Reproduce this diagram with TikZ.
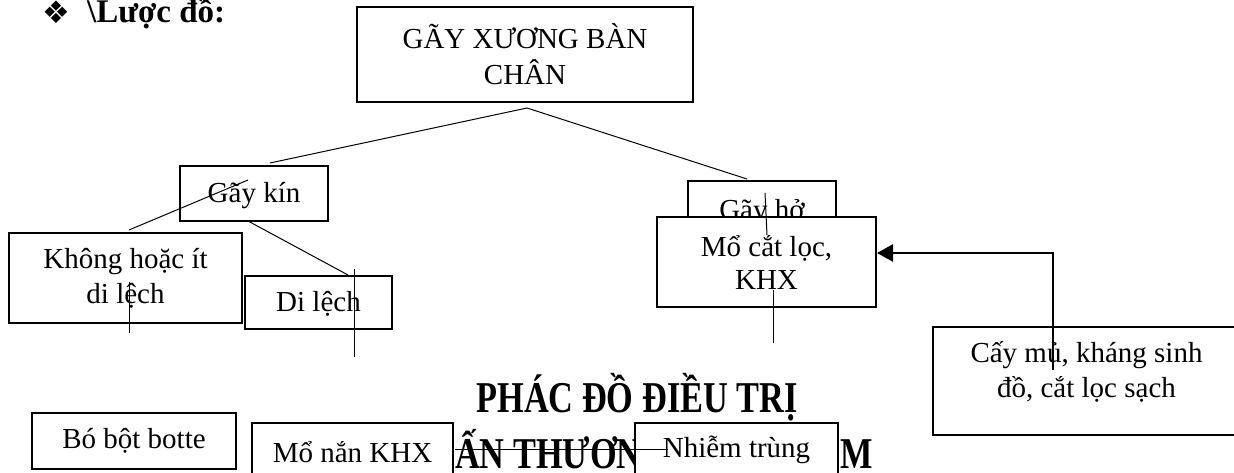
\documentclass[tikz,border=0pt]{standalone}
\usepackage{fontspec}
\setmainfont{Liberation Serif}
\newfontfamily\dingfont{DejaVu Sans}
\usetikzlibrary{arrows.meta}

\begin{document}
\begin{tikzpicture}[x=1pt,y=-1pt,
  box/.style={draw, line width=2pt, fill=white, inner sep=0pt, align=center,
    font=\fontsize{29}{35}\selectfont},
  link/.style={line width=1pt},
  feedback/.style={line width=2.5pt, -{Triangle[length=16pt,width=17pt]}},
  heading/.style={inner sep=0pt, font=\fontsize{33}{38}\selectfont\bfseries},
  titletext/.style={inner sep=0pt, font=\fontsize{44}{50}\selectfont\bfseries},
  plain/.style={inner sep=0pt, font=\fontsize{29}{35}\selectfont},
]
\useasboundingbox (0,0) rectangle (1234,473);
\clip (0,0) rectangle (1234,473);

% heading
\node[inner sep=0pt, font=\dingfont\fontsize{31}{34}\selectfont] (bullet) at (56,12) {❖};
\node[heading, anchor=base west] (head) at (87,23) {\textbackslash Lược đồ:};

% title (partly covered by the boxes drawn afterwards)
\node[titletext, anchor=base] (title1) at (637,412) {\scalebox{0.78}[1]{PHÁC ĐỒ ĐIỀU TRỊ}};
\node[titletext, anchor=base west] (title2) at (455,468) {\scalebox{0.78}[1]{ẤN THƯƠN}};
\node[titletext, anchor=base west] (title3) at (840,468) {\scalebox{0.78}[1]{M}};

% boxes
\node[box, minimum width=336pt, minimum height=95pt, font=\fontsize{29}{36}\selectfont]
  (root) at (525,54.5) {GÃY XƯƠNG BÀN\\CHÂN};
\node[box, minimum width=148pt, minimum height=55pt, text depth=3pt] (closed) at (254,193.5) {Gãy kín};
\node[box, minimum width=233pt, minimum height=90pt] (minor) at (125.5,278) {Không hoặc ít\\di lệch};
\node[box, minimum width=147pt, minimum height=53pt, text depth=3pt] (displaced) at (318.5,302.5) {Di lệch};
\node[box, minimum width=148pt, minimum height=60pt, anchor=north] (open) at (762,180) {};
\node[plain, anchor=base] (openlabel) at (762,220) {Gãy hở};
\node[box, minimum width=219pt, minimum height=90pt, text depth=0pt,
  font=\fontsize{29}{33}\selectfont] (debride) at (766.5,262) {Mổ cắt lọc,\\KHX};
\node[box, minimum width=307pt, minimum height=108pt, text depth=24pt]
  (culture) at (1086.5,381) {Cấy mủ, kháng sinh\\đồ, cắt lọc sạch};
\node[box, minimum width=204pt, minimum height=56pt] (cast) at (134,441) {Bó bột botte};
\node[box, minimum width=201pt, minimum height=58pt] (orif) at (352.5,452) {Mổ nắn KHX};
\node[box, minimum width=203pt, minimum height=54pt] (infect) at (736.5,450) {Nhiễm trùng};

% connector end points
\coordinate (rootfoot) at (527,108);
\coordinate (toclosed) at (270,163);
\coordinate (toopen) at (747,179);
\coordinate (ka) at (248,180);
\coordinate (kb) at (129,230);
\coordinate (kc) at (248,221);
\coordinate (kd) at (348,275);
\coordinate (ma) at (129,282);
\coordinate (mb) at (129,333);
\coordinate (da) at (354,269);
\coordinate (db) at (354,357);
\coordinate (oa) at (765,193);
\coordinate (ob) at (767,235);
\coordinate (dba) at (773,290);
\coordinate (dbb) at (773,343);
\coordinate (ia) at (455,449);
\coordinate (ib) at (668,449);
\coordinate (cultail) at (1053,370);
\coordinate (debhead) at (877,253);

% connectors
\draw[link] (rootfoot) -- (toclosed);
\draw[link] (rootfoot) -- (toopen);
\draw[link] (ka) -- (kb);
\draw[link] (kc) -- (kd);
\draw[link] (ma) -- (mb);
\draw[link] (da) -- (db);
\draw[link] (oa) -- (ob);
\draw[link] (dba) -- (dbb);
\draw[link] (ia) -- (ib);
\draw[feedback] (cultail) |- (debhead);
\end{tikzpicture}
\end{document}
